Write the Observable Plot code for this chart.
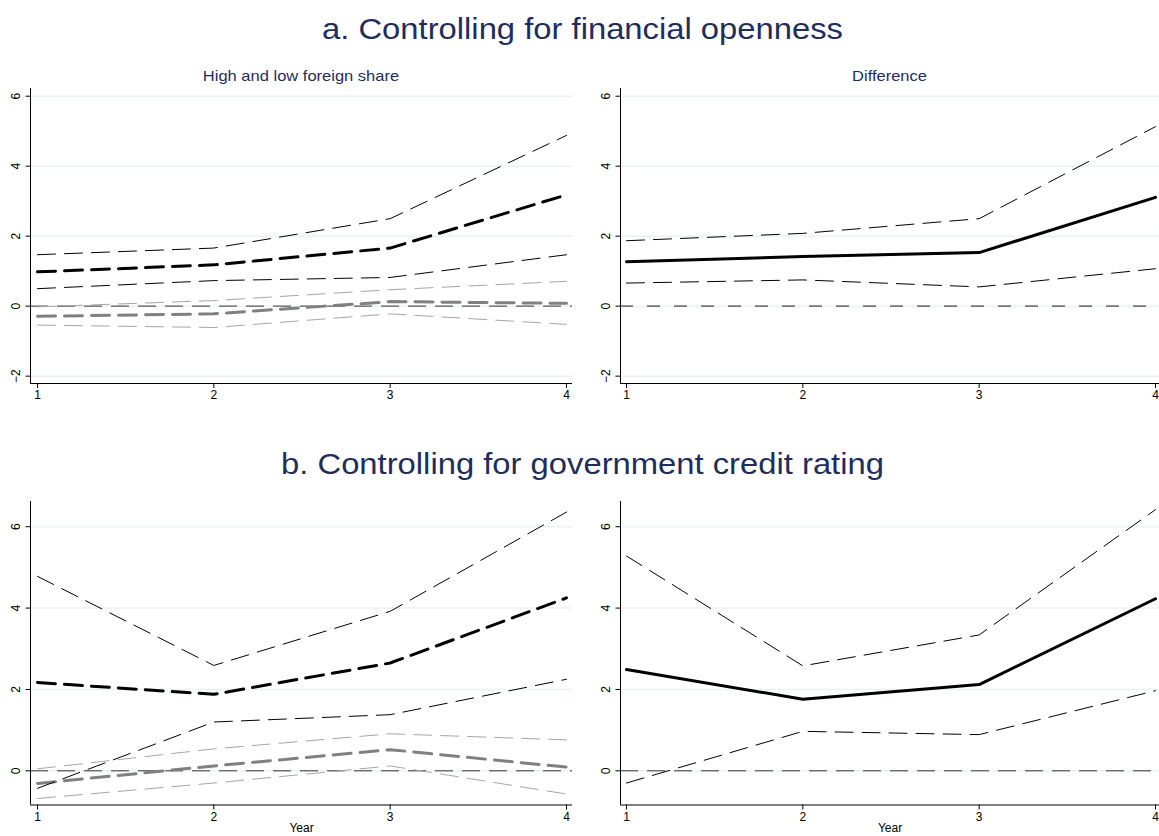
<!DOCTYPE html>
<html>
<head>
<meta charset="utf-8">
<script src="https://cdn.jsdelivr.net/npm/d3@7"></script>
<script src="https://cdn.jsdelivr.net/npm/@observablehq/plot@0.6"></script>
<style>
  html, body { margin: 0; padding: 0; background: #fff; }
  #root { position: relative; width: 1159px; height: 836px; overflow: hidden; background: #fff;
          font-family: "Liberation Sans", Arial, Helvetica, sans-serif; }
  .title { position: absolute; left: 2.5px; width: 1159px; text-align: center; color: #1f2d5c;
           font-size: 29px; line-height: 29px; transform: scaleX(1.13); transform-origin: center; white-space: nowrap; }
  .sub { position: absolute; text-align: center; color: #1f2d5c; font-size: 15px; line-height: 15px;
         transform: scaleX(1.1); transform-origin: center; white-space: nowrap; }
  .panel { position: absolute; }
</style>
</head>
<body>
<div id="root"></div>
<script>
// ---------------- data ----------------
const years = [1, 2, 3, 4];
const xTicks = [1, 2, 3, 4];
const yTicksA = [-2, 0, 2, 4, 6];
const yTicksB = [0, 2, 4, 6];
const refLine = [0];

const titleA = "a. Controlling for financial openness";
const titleB = "b. Controlling for government credit rating";
const subLeft = "High and low foreign share";
const subRight = "Difference";
const xTitle = "Year";

// Panel a: high foreign share (black), low foreign share (gray), difference
const aHighEst = [0.98, 1.18, 1.66, 3.18];
const aHighLo  = [0.50, 0.73, 0.82, 1.47];
const aHighHi  = [1.47, 1.66, 2.50, 4.88];
const aLowEst  = [-0.29, -0.22, 0.13, 0.08];
const aLowLo   = [-0.54, -0.61, -0.22, -0.52];
const aLowHi   = [-0.02, 0.16, 0.47, 0.71];
const aDiffEst = [1.27, 1.42, 1.53, 3.11];
const aDiffLo  = [0.66, 0.75, 0.55, 1.07];
const aDiffHi  = [1.87, 2.08, 2.50, 5.13];

// Panel b
const bHighEst = [2.17, 1.88, 2.65, 4.25];
const bHighLo  = [-0.43, 1.20, 1.38, 2.25];
const bHighHi  = [4.78, 2.59, 3.92, 6.36];
const bLowEst  = [-0.31, 0.12, 0.52, 0.09];
const bLowLo   = [-0.68, -0.30, 0.12, -0.57];
const bLowHi   = [0.05, 0.54, 0.91, 0.76];
const bDiffEst = [2.49, 1.76, 2.12, 4.23];
const bDiffLo  = [-0.30, 0.97, 0.89, 1.97];
const bDiffHi  = [5.28, 2.58, 3.34, 6.42];

// ---------------- helpers ----------------
const rows = vals => years.map((year, i) => ({year, value: vals[i]}));
const root = document.getElementById("root");

const S = {
  thinBlack: {stroke: "#000", strokeWidth: 1, strokeDasharray: "18,9"},
  thickBlack: {stroke: "#000", strokeWidth: 3, strokeDasharray: "18,9"},
  solidBlack: {stroke: "#000", strokeWidth: 3},
  thinGray: {stroke: "#a6a6a6", strokeWidth: 1, strokeDasharray: "18,9"},
  thickGray: {stroke: "#808080", strokeWidth: 3, strokeDasharray: "18,9"},
  zero: {stroke: "#5a5a5a", strokeWidth: 1.4, strokeDasharray: "18,9"}
};

function addDiv(cls, text, style) {
  const d = document.createElement("div");
  d.className = cls;
  d.textContent = text;
  Object.assign(d.style, style);
  root.appendChild(d);
}

function panel({series, yTicks, xDomain, yDomain, left, top, width, height, margins, zeroStyle, xLabel}) {
  const [mt, mr, mb, ml] = margins;
  const marks = [
    Plot.gridY(yTicks, {stroke: "#eaf2f3", strokeOpacity: 1, strokeWidth: 1.5}),
    Plot.ruleY(refLine, {...zeroStyle}),
    ...series.map(([vals, st]) => Plot.line(rows(vals), {x: "year", y: "value", ...st, strokeLinejoin: "round"})),
    Plot.ruleX([xDomain[0]], {stroke: "#000", strokeWidth: 1}),
    Plot.ruleY([yDomain[0]], {stroke: "#000", strokeWidth: 1}),
    Plot.axisY(yTicks, {anchor: "left", tickSize: 4.5, tickPadding: 6, tickRotate: -90,
      textAnchor: "middle", fontSize: 12, fill: "#000", label: null, tickFormat: d => d < 0 ? "\u2212" + (-d) : String(d)}),
    Plot.axisX(xTicks, {anchor: "bottom", tickSize: 5, tickPadding: 2, fontSize: 12, fill: "#000",
      tickFormat: d => String(d), label: null}),
  ];
  if (xLabel) {
    marks.push(Plot.axisX(xTicks, {anchor: "bottom", tickSize: 0, tickFormat: () => "", fontSize: 12, fill: "#000",
      label: xLabel, labelAnchor: "center", labelOffset: 27, labelArrow: "none"}));
  }
  const chart = Plot.plot({
    width, height,
    marginTop: mt, marginRight: mr, marginBottom: mb, marginLeft: ml,
    style: {fontFamily: '"Liberation Sans", Arial, sans-serif', fontSize: "12px", background: "transparent"},
    x: {domain: xDomain, axis: null},
    y: {domain: yDomain, axis: null},
    marks
  });
  const wrap = document.createElement("div");
  wrap.className = "panel";
  wrap.style.left = left + "px";
  wrap.style.top = top + "px";
  wrap.appendChild(chart);
  root.appendChild(wrap);
}

// ---------------- titles ----------------
addDiv("title", titleA, {top: "15.4px"});
addDiv("title", titleB, {top: "450px"});
addDiv("sub", subLeft, {left: "30px", width: "542px", top: "68px"});
addDiv("sub", subRight, {left: "620px", width: "539px", top: "68px"});

// ---------------- panels ----------------
const yDomA = [-2.21, 6.22];
const yDomB = [-0.84, 6.62];
const xDomL = [0.9603, 4.034];
const xDomR = [0.966, 4.0227];

panel({
  series: [[aLowHi, S.thinGray], [aLowLo, S.thinGray], [aLowEst, S.thickGray],
           [aHighHi, S.thinBlack], [aHighLo, S.thinBlack], [aHighEst, S.thickBlack]],
  yTicks: yTicksA, xDomain: xDomL, yDomain: yDomA,
  left: 0, top: 80, width: 580, height: 335, margins: [8, 8, 32, 30],
  zeroStyle: S.zero, xLabel: null
});
panel({
  series: [[aDiffHi, S.thinBlack], [aDiffLo, S.thinBlack], [aDiffEst, S.solidBlack]],
  yTicks: yTicksA, xDomain: xDomR, yDomain: yDomA,
  left: 580, top: 80, width: 579, height: 335, margins: [8, 0, 32, 40],
  zeroStyle: {stroke: "#777", strokeWidth: 1.8, strokeDasharray: "13,14"}, xLabel: null
});
panel({
  series: [[bLowHi, S.thinGray], [bLowLo, S.thinGray], [bLowEst, S.thickGray],
           [bHighHi, S.thinBlack], [bHighLo, S.thinBlack], [bHighEst, S.thickBlack]],
  yTicks: yTicksB, xDomain: xDomL, yDomain: yDomB,
  left: 0, top: 495, width: 580, height: 341, margins: [6, 8, 31.5, 30],
  zeroStyle: {stroke: "#333", strokeWidth: 1, strokeDasharray: "18,9"}, xLabel: xTitle
});
panel({
  series: [[bDiffHi, S.thinBlack], [bDiffLo, S.thinBlack], [bDiffEst, S.solidBlack]],
  yTicks: yTicksB, xDomain: xDomR, yDomain: yDomB,
  left: 580, top: 495, width: 579, height: 341, margins: [6, 0, 31.5, 40],
  zeroStyle: {stroke: "#333", strokeWidth: 1, strokeDasharray: "18,9"}, xLabel: xTitle
});
</script>
</body>
</html>
